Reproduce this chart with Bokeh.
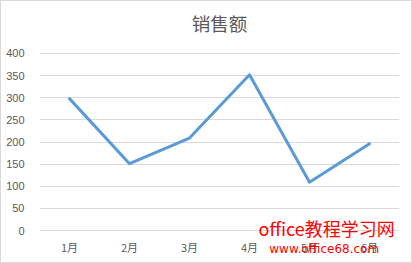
from bokeh.plotting import figure
from bokeh.models import Range1d, FixedTicker, Label
from bokeh.core.properties import value
from bokeh.embed import file_html
from bokeh.resources import INLINE

months = ["1月", "2月", "3月", "4月", "5月", "6月"]
sales = [298, 151, 209, 352, 109, 196]
y_ticks = [0, 50, 100, 150, 200, 250, 300, 350, 400]
title_text = "销售额"
wm1 = "office教程学习网"
wm2 = "www.office68.com"

GRAY = "#595959"

p = figure(width=412, height=263, x_range=months, y_range=Range1d(-76.8, 517.5),
           output_backend="svg", toolbar_location=None, x_axis_location=None,
           min_border_left=38, min_border_right=14, min_border_top=0, min_border_bottom=0)
p.styles = {"border": "1px solid #d9d9d9", "box-sizing": "border-box"}
p.outline_line_color = None
p.background_fill_color = "white"
p.border_fill_color = "white"

p.xgrid.grid_line_color = None
p.ygrid.grid_line_color = "#d9d9d9"
p.ygrid.grid_line_width = 1
p.yaxis.ticker = FixedTicker(ticks=y_ticks)
p.yaxis.axis_line_color = None
p.yaxis.major_tick_line_color = None
p.yaxis.minor_tick_line_color = None
p.yaxis.major_label_standoff = 9
p.yaxis.major_label_text_font = "Liberation Sans"
p.yaxis.major_label_text_font_size = "11px"
p.yaxis.major_label_text_color = GRAY

# category labels under the zero line
p.text(x=months, y=[-36.2] * len(months), text=months, text_font=value("Noto Sans CJK SC"),
       text_font_size="11px", text_color=GRAY, text_align="center", text_baseline="middle")

p.line(x=months, y=sales, line_color="#5b9bd5", line_width=3, line_join="round", line_cap="round")

p.text(x=[3.0], y=[468], text=[title_text], text_font=value("Noto Sans CJK SC"),
       text_font_size="18.5px", text_color=GRAY, text_align="center", text_baseline="middle")

p.add_layout(Label(x=3.65, y=6.8, text=wm1, text_font="Noto Sans CJK SC",
                   text_font_size="18px", text_color="#ff0000",
                   text_align="left", text_baseline="middle"))
p.add_layout(Label(x=3.83, y=-40.7, text=wm2, text_font="DejaVu Sans",
                   text_font_size="12px", text_color="#ff0000",
                   text_align="left", text_baseline="middle"))

open("out.html", "w").write(file_html(p, INLINE))
